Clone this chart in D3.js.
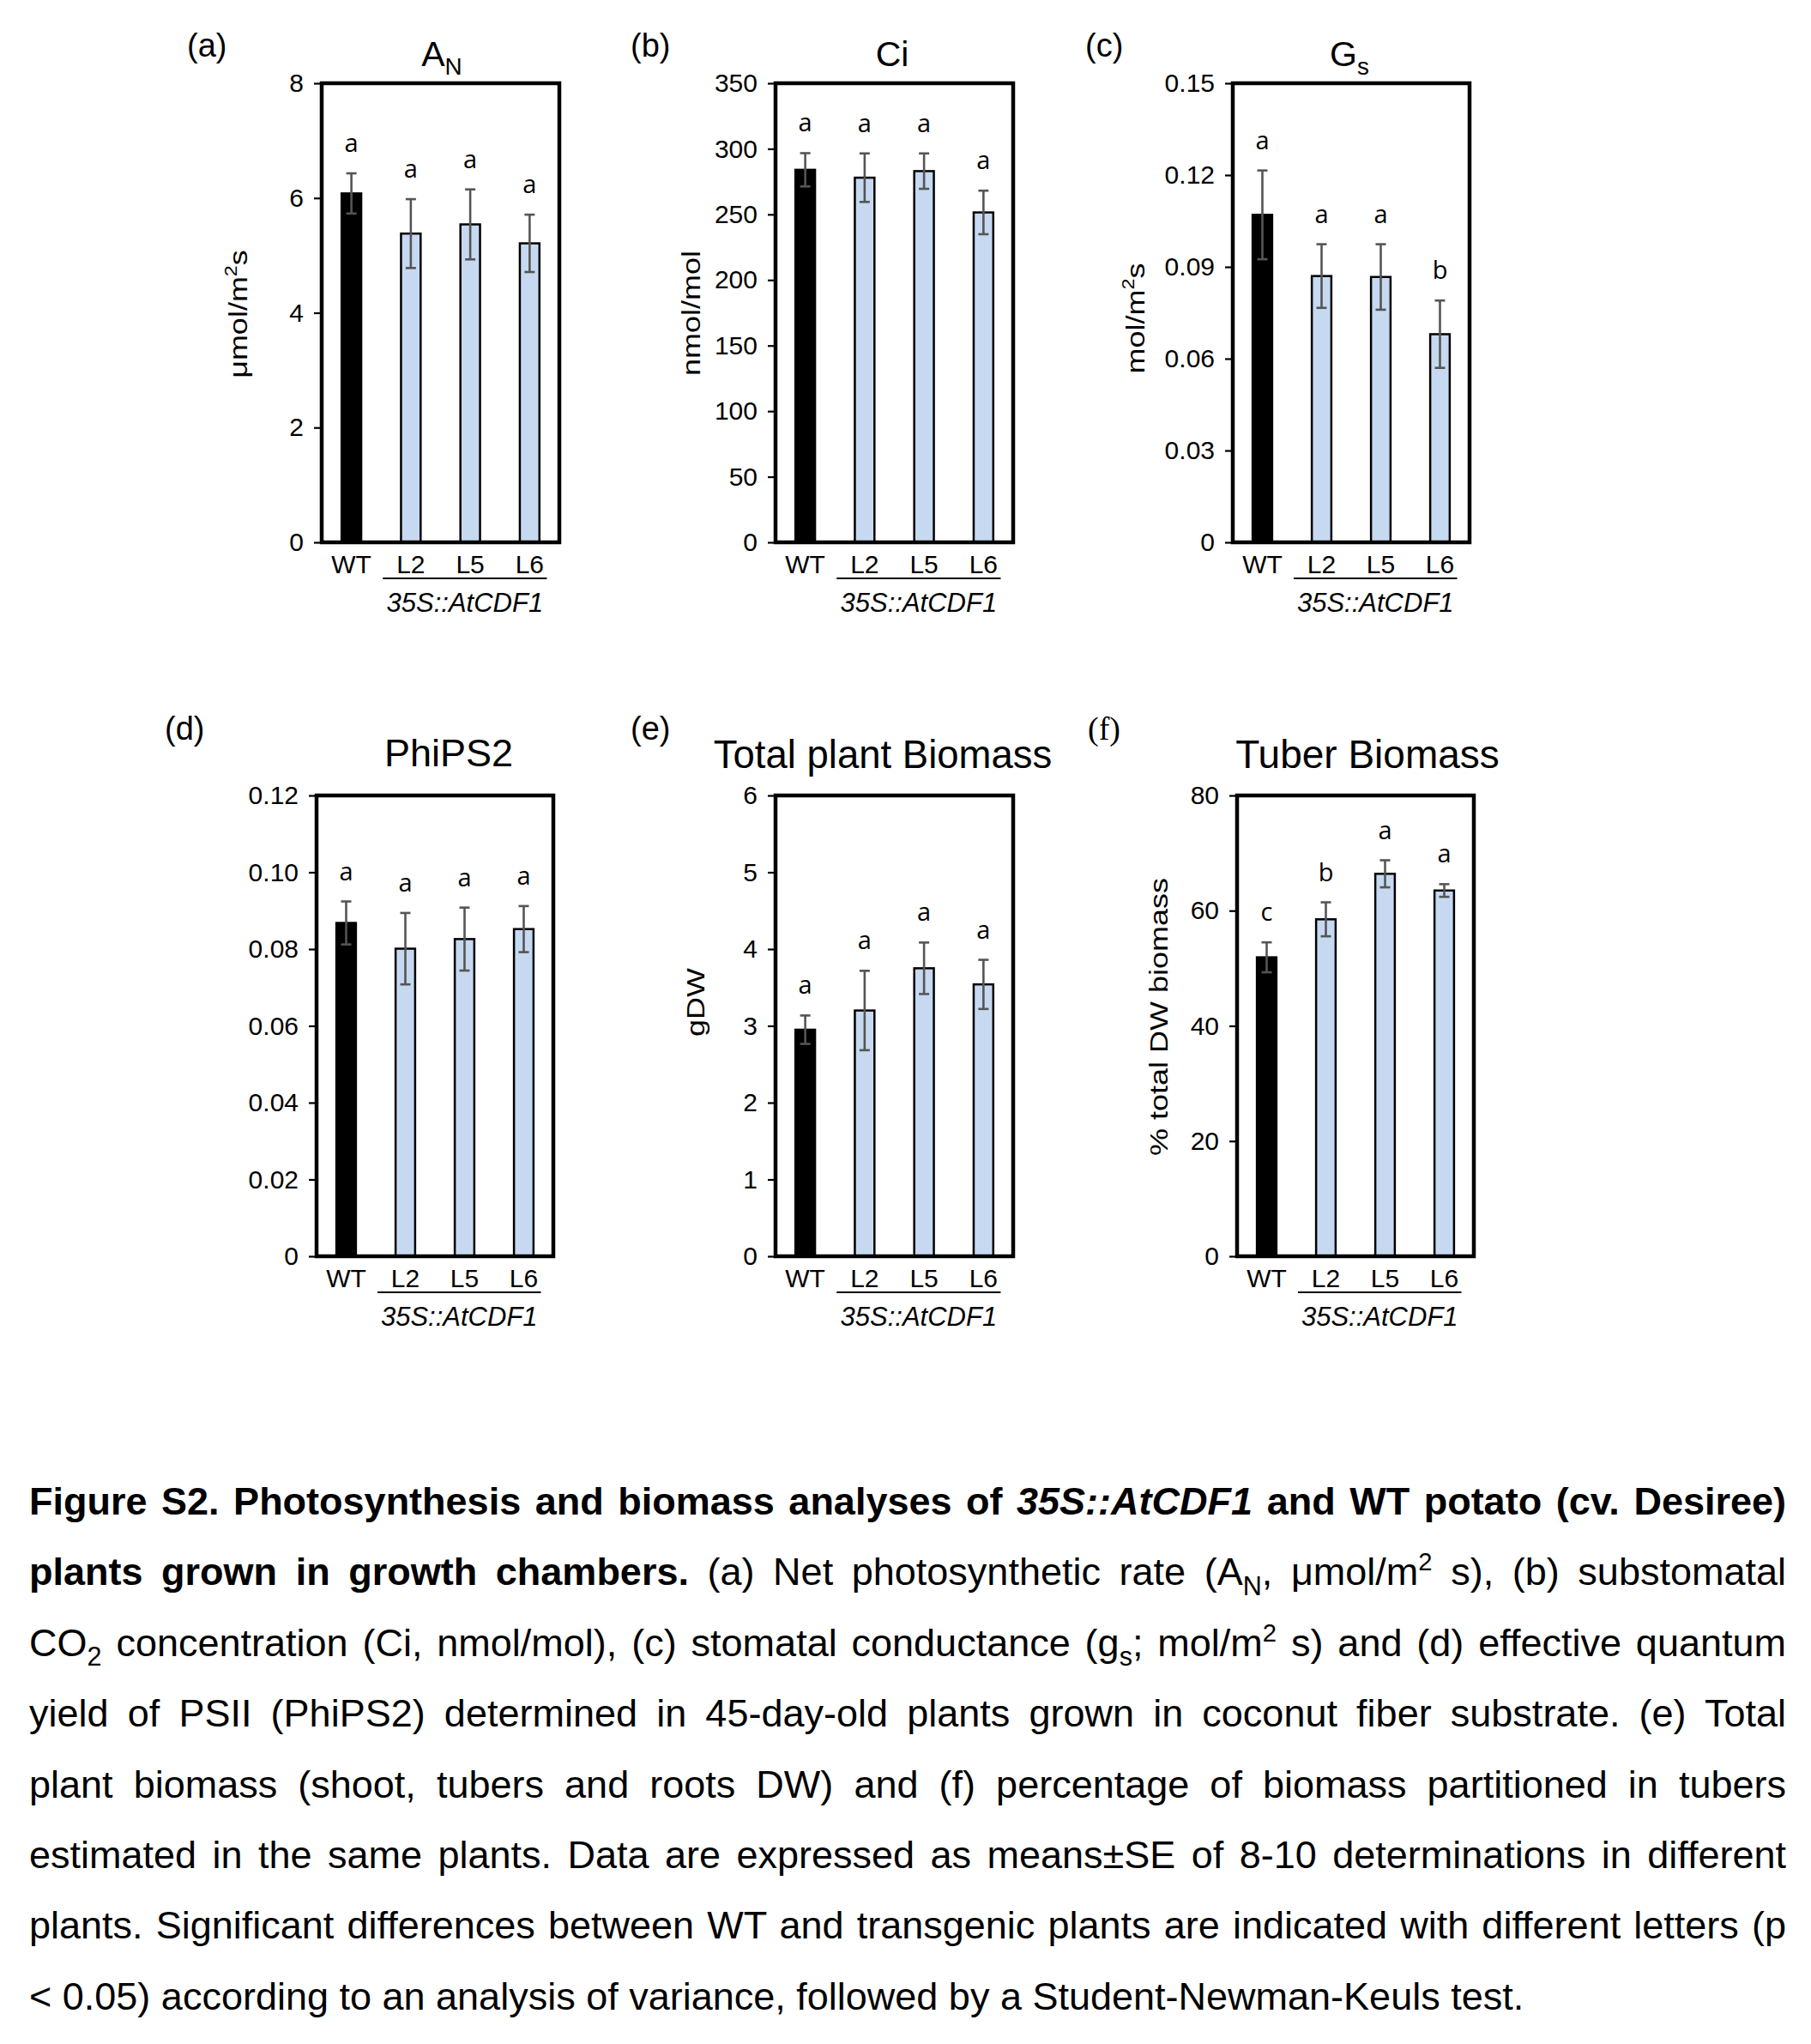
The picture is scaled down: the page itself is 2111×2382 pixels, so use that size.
<!DOCTYPE html>
<html>
<head>
<meta charset="utf-8">
<script src="https://cdn.jsdelivr.net/npm/d3@7"></script>
<style>
body{margin:0;background:#fff;}
text{font-family:"Liberation Sans",Arial,sans-serif;fill:#000;}
</style>
</head>
<body>
<div id="chart"></div>
<script>
// categories
var categories=["WT","L2","L5","L6"];

// (a) net photosynthetic rate
var anMeans=[6.08,5.38,5.54,5.21];
var anErrors=[0.35,0.60,0.61,0.50];
var anLetters=["a","a","a","a"];
var anTicks=[0,2,4,6,8];
var anTickLabels=["0","2","4","6","8"];

// (b) substomatal CO2
var ciMeans=[284,278,283,251.5];
var ciErrors=[12.7,18.5,13.5,16.6];
var ciLetters=["a","a","a","a"];
var ciTicks=[0,50,100,150,200,250,300,350];
var ciTickLabels=["0","50","100","150","200","250","300","350"];

// (c) stomatal conductance
var gsMeans=[0.107,0.087,0.0867,0.068];
var gsErrors=[0.0145,0.0104,0.0107,0.011];
var gsLetters=["a","a","a","b"];
var gsTicks=[0,0.03,0.06,0.09,0.12,0.15];
var gsTickLabels=["0","0.03","0.06","0.09","0.12","0.15"];

// (d) PhiPS2
var phiMeans=[0.0868,0.0801,0.0826,0.0852];
var phiErrors=[0.0056,0.0093,0.0082,0.0060];
var phiLetters=["a","a","a","a"];
var phiTicks=[0,0.02,0.04,0.06,0.08,0.10,0.12];
var phiTickLabels=["0","0.02","0.04","0.06","0.08","0.10","0.12"];

// (e) total plant biomass
var biomassMeans=[2.95,3.20,3.75,3.54];
var biomassErrors=[0.185,0.517,0.335,0.32];
var biomassLetters=["a","a","a","a"];
var biomassTicks=[0,1,2,3,4,5,6];
var biomassTickLabels=["0","1","2","3","4","5","6"];

// (f) tuber biomass
var tuberMeans=[51.9,58.5,66.4,63.5];
var tuberErrors=[2.6,2.95,2.35,1.1];
var tuberLetters=["c","b","a","a"];
var tuberTicks=[0,20,40,60,80];
var tuberTickLabels=["0","20","40","60","80"];

// panel texts
var panelIds=["(a)","(b)","(c)","(d)","(e)","(f)"];
var panelTitles=[[["A",""],["N","sub"]],[["Ci",""]],[["G",""],["s","sub"]],[["PhiPS2",""]],[["Total plant Biomass",""]],[["Tuber Biomass",""]]];
var panelYLabels=[[["μmol/m",""],["2","sup"],["s",""]],[["nmol/mol",""]],[["mol/m",""],["2","sup"],["s",""]],null,[["gDW",""]],[["% total DW biomass",""]]];
var groupLabel="35S::AtCDF1";

// panel layout (pixels)
var layout=[
    {x0:375,x1:652,y0:97,y1:632,lx:218,ly:66,tx:515,ty:77,ts:41,yx:277,yy:366},
    {x0:904,x1:1181,y0:97,y1:632,lx:735,ly:66,tx:1040,ty:77,ts:41,yx:805,yy:365},
    {x0:1437,x1:1713,y0:97,y1:632,lx:1265,ly:66,tx:1573,ty:77,ts:41,yx:1323,yy:371},
    {x0:369,x1:645,y0:927,y1:1464,lx:192,ly:862,tx:523,ty:893,ts:45,yx:0,yy:0},
    {x0:904,x1:1181,y0:927,y1:1464,lx:735,ly:862,tx:1029,ty:895,ts:45.5,yx:810,yy:1168},
    {x0:1442,x1:1718,y0:927,y1:1464,lx:1268,ly:862,tx:1594,ty:895,ts:46,yx:1350,yy:1185}
];

var panels=[
    {means:anMeans,errors:anErrors,letters:anLetters,ticks:anTicks,tickLabels:anTickLabels},
    {means:ciMeans,errors:ciErrors,letters:ciLetters,ticks:ciTicks,tickLabels:ciTickLabels},
    {means:gsMeans,errors:gsErrors,letters:gsLetters,ticks:gsTicks,tickLabels:gsTickLabels},
    {means:phiMeans,errors:phiErrors,letters:phiLetters,ticks:phiTicks,tickLabels:phiTickLabels},
    {means:biomassMeans,errors:biomassErrors,letters:biomassLetters,ticks:biomassTicks,tickLabels:biomassTickLabels},
    {means:tuberMeans,errors:tuberErrors,letters:tuberLetters,ticks:tuberTicks,tickLabels:tuberTickLabels}
];

// caption lines (text, style)
var captionLines=[
    [["Figure S2. Photosynthesis and biomass analyses of ","b"],["35S::AtCDF1","bi"],[" and WT potato (cv. Desiree)","b"]],
    [["plants grown in growth chambers.","b"],[" (a) Net photosynthetic rate (A",""],["N","sub"],[", μmol/m",""],["2","sup"],[" s), (b) substomatal",""]],
    [["CO",""],["2","sub"],[" concentration (Ci, nmol/mol), (c) stomatal conductance (g",""],["s","sub"],["; mol/m",""],["2","sup"],[" s) and (d) effective quantum",""]],
    [["yield of PSII (PhiPS2) determined in 45-day-old plants grown in coconut fiber substrate. (e) Total",""]],
    [["plant biomass (shoot, tubers and roots DW) and (f) percentage of biomass partitioned in tubers",""]],
    [["estimated in the same plants. Data are expressed as means±SE of 8-10 determinations in different",""]],
    [["plants. Significant differences between WT and transgenic plants are indicated with different letters (p",""]],
    [["< 0.05) according to an analysis of variance, followed by a Student-Newman-Keuls test.",""]]
];

var svgWidth=2111;
var svgHeight=2382;

var svg=d3.select("#chart")
    .append("svg")
    .attr("width",svgWidth)
    .attr("height",svgHeight);

svg.append("rect")
    .attr("width",svgWidth)
    .attr("height",svgHeight)
    .attr("fill","#fff");

// writes text parts with sub/superscripts into a text element
function richText(textSel,parts,size) {
    var shift=0;
    parts.forEach(function(p) {
        var t=textSel.append("tspan").text(p[0]);
        var target=0;
        if (p[1]==="sup") {
            target=-0.38*size;
            t.attr("font-size",size*0.65);
        }
        else if (p[1]==="sub") {
            target=0.25*size;
            t.attr("font-size",size*0.68);
        }
        if (p[1].indexOf("b")>=0 && p[1]!=="sub") t.attr("font-weight","bold");
        if (p[1].indexOf("i")>=0) t.attr("font-style","italic");
        if (target!==shift) {
            t.attr("dy",target-shift);
            shift=target;
        }
    });
}

panels.forEach(function(p,k) {
    var L=layout[k];
    var g=svg.append("g");

    var x=d3.scaleBand()
        .domain(categories)
        .range([L.x0,L.x1]);
    var y=d3.scaleLinear()
        .domain([0,d3.max(p.ticks)])
        .range([L.y1,L.y0]);
    var bw=x.bandwidth()*0.33;

    // y axis ticks
    var leftAxis=d3.axisLeft(y)
        .tickValues(p.ticks)
        .tickFormat(function(d,i) {return p.tickLabels[i];})
        .tickSize(9)
        .tickPadding(12);
    var axisG=g.append("g")
        .attr("transform",`translate(${L.x0},0)`)
        .call(leftAxis);
    axisG.select(".domain").remove();
    axisG.selectAll("line").attr("stroke","#000").attr("stroke-width",2.2);
    axisG.selectAll("text")
        .attr("font-size",30)
        .attr("font-family","'Liberation Sans',Arial,sans-serif")
        .attr("fill","#000");

    var rows=categories.map(function(c,i) {
        return {cat:c,mean:p.means[i],se:p.errors[i],letter:p.letters[i]};
    });

    // bars
    g.selectAll(".bar")
        .data(rows)
        .enter()
        .append("rect")
        .attr("x",d=>x(d.cat)+x.bandwidth()/2-bw/2)
        .attr("y",d=>y(d.mean))
        .attr("width",bw)
        .attr("height",d=>y(0)-y(d.mean))
        .attr("fill",d=>d.cat==="WT"?"#000":"#c6d9f1")
        .attr("stroke","#000")
        .attr("stroke-width",2.5);

    // error bars
    var err=g.selectAll(".err")
        .data(rows)
        .enter()
        .append("g")
        .attr("stroke","#555")
        .attr("stroke-width",2.6);
    err.append("line")
        .attr("x1",d=>x(d.cat)+x.bandwidth()/2)
        .attr("x2",d=>x(d.cat)+x.bandwidth()/2)
        .attr("y1",d=>y(d.mean-d.se))
        .attr("y2",d=>y(d.mean+d.se));
    err.append("line")
        .attr("x1",d=>x(d.cat)+x.bandwidth()/2-6)
        .attr("x2",d=>x(d.cat)+x.bandwidth()/2+6)
        .attr("y1",d=>y(d.mean+d.se))
        .attr("y2",d=>y(d.mean+d.se));
    err.append("line")
        .attr("x1",d=>x(d.cat)+x.bandwidth()/2-6)
        .attr("x2",d=>x(d.cat)+x.bandwidth()/2+6)
        .attr("y1",d=>y(d.mean-d.se))
        .attr("y2",d=>y(d.mean-d.se));

    // significance letters
    g.selectAll(".letter")
        .data(rows)
        .enter()
        .append("text")
        .attr("x",d=>x(d.cat)+x.bandwidth()/2)
        .attr("y",d=>y(d.mean+d.se)-25)
        .attr("text-anchor","middle")
        .attr("font-size",29)
        .style("font-family","'Open Sans','Noto Sans',sans-serif")
        .attr("fill","#111")
        .text(d=>d.letter);

    // frame
    g.append("rect")
        .attr("x",L.x0)
        .attr("y",L.y0)
        .attr("width",L.x1-L.x0)
        .attr("height",L.y1-L.y0)
        .attr("fill","none")
        .attr("stroke","#000")
        .attr("stroke-width",4.5);

    // category labels
    g.selectAll(".cat")
        .data(categories)
        .enter()
        .append("text")
        .attr("x",d=>x(d)+x.bandwidth()/2)
        .attr("y",L.y1+36)
        .attr("text-anchor","middle")
        .attr("font-size",30)
        .text(d=>d);

    // transgenic line group
    var ux1=x("L2")+2;
    var ux2=x("L6")+x.bandwidth()*0.79;
    g.append("line")
        .attr("x1",ux1)
        .attr("x2",ux2)
        .attr("y1",L.y1+42)
        .attr("y2",L.y1+42)
        .attr("stroke","#000")
        .attr("stroke-width",2);
    g.append("text")
        .attr("x",(ux1+ux2)/2)
        .attr("y",L.y1+81)
        .attr("text-anchor","middle")
        .attr("font-size",31)
        .attr("font-style","italic")
        .text(groupLabel);

    // title
    var title=g.append("text")
        .attr("x",L.tx)
        .attr("y",L.ty)
        .attr("text-anchor","middle")
        .attr("font-size",L.ts);
    richText(title,panelTitles[k],L.ts);

    // panel id
    g.append("text")
        .attr("x",L.lx)
        .attr("y",L.ly)
        .attr("font-size",38)
        .style("font-family",k===5?"'Liberation Serif',serif":null)
        .text(panelIds[k]);

    // y axis label
    if (panelYLabels[k]) {
        var yl=g.append("text")
            .attr("transform",`translate(${L.yx},${L.yy}) rotate(-90) scale(1.2,1)`)
            .attr("text-anchor","middle")
            .attr("dy","0.35em")
            .attr("font-size",30);
        richText(yl,panelYLabels[k],30);
    }
});

// caption, justified except the last line
var capLeft=34;
var capRight=2082;
var capSize=45;
captionLines.forEach(function(parts,i) {
    var t=svg.append("text")
        .attr("x",capLeft)
        .attr("y",1765+i*82.4)
        .attr("font-size",capSize);
    richText(t,parts,capSize);
    if (i<captionLines.length-1) {
        var natural=t.node().getComputedTextLength();
        var spaces=parts.map(p=>p[0]).join("").split(" ").length-1;
        t.style("word-spacing",((capRight-capLeft-natural)/spaces)+"px");
    }
});
</script>
</body>
</html>
